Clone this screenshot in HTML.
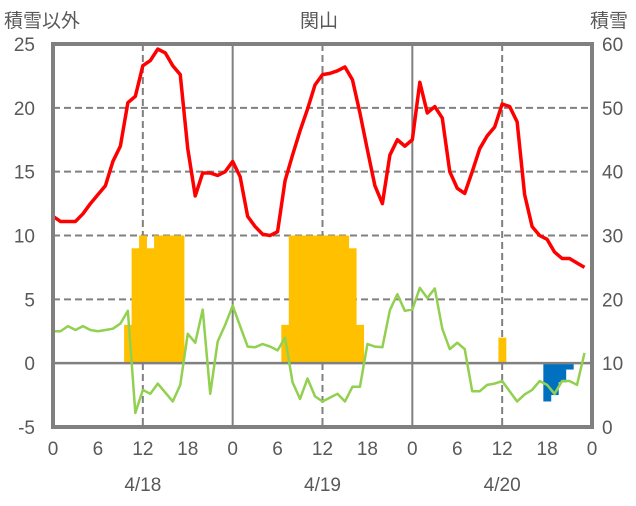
<!DOCTYPE html>
<html><head><meta charset="utf-8"><style>
body{margin:0;background:#fff;width:636px;height:501px;overflow:hidden}
svg text{font-family:"Liberation Sans","Noto Sans CJK JP",sans-serif;fill:#595959}
</style></head><body>
<svg id="chart" width="636" height="501"></svg>
<script>
const hours=[0,6,12,18,0,6,12,18,0,6,12,18,0];
const leftTicks=[25,20,15,10,5,0,-5];
const rightTicks=[60,50,40,30,20,10,0];
const dates=["4/18","4/19","4/20"];
const temp=[11.5,11.1,11.1,11.1,11.7,12.5,13.2,13.9,15.8,17.0,20.4,20.9,23.3,23.7,24.6,24.3,23.3,22.6,16.8,13.1,14.9,14.9,14.7,15.0,15.8,14.6,11.5,10.7,10.1,10.0,10.3,14.3,16.3,18.2,19.9,21.8,22.6,22.7,22.9,23.2,22.2,19.6,16.7,13.9,12.5,16.3,17.5,17.0,17.5,22.0,19.6,20.1,19.2,15.0,13.7,13.3,15.0,16.8,17.8,18.5,20.3,20.1,18.9,13.2,10.7,10.0,9.7,8.7,8.2,8.2,7.85,7.5];
const green=[2.5,2.5,2.9,2.6,2.9,2.6,2.5,2.6,2.7,3.1,4.1,-3.9,-2.1,-2.4,-1.6,-2.3,-3.0,-1.7,2.3,1.6,4.2,-2.4,1.7,3.0,4.5,2.9,1.3,1.25,1.5,1.3,1.0,2.0,-1.5,-2.8,-1.2,-2.6,-3.0,-2.7,-2.4,-3.0,-1.85,-1.85,1.5,1.3,1.25,4.15,5.4,4.1,4.2,5.9,5.1,5.85,2.7,1.1,1.6,1.1,-2.2,-2.2,-1.7,-1.6,-1.4,-2.2,-3.0,-2.45,-2.1,-1.4,-1.7,-2.4,-1.4,-1.4,-1.7,0.8];
const snowHours=[10,11,12,13,14,15,16,17,31,32,33,34,35,36,37,38,39,40,41,60];
const snowVals=[3,9,10,9,10,10,10,10,3,10,10,10,10,10,10,10,10,9,3,2];
const meltHours=[66,67,68,69];
const meltVals=[-3,-2.5,-1.5,-0.5];
const depthHours=[0,11];
const depthVals=[0,0];

const X0=53,X1=592,Y0=44,Y1=427;
const x=h=>X0+(X1-X0)*h/72;
const yL=v=>Y1-(Y1-Y0)*(v+5)/30;
const yR=v=>Y1-(Y1-Y0)*v/60;
const svg=document.getElementById('chart');
const NS="http://www.w3.org/2000/svg";
function mk(tag,attrs,parent){const e=document.createElementNS(NS,tag);for(const k in attrs)e.setAttribute(k,attrs[k]);(parent||svg).appendChild(e);return e;}
// grid
[20,15,10,5].forEach(v=>{const l=mk('line',{x1:X0,x2:X1,y1:yL(v),y2:yL(v),stroke:'#808080','stroke-width':2,'stroke-dasharray':'7,4'});

});
[12,36,60].forEach(h=>{const l=mk('line',{x1:x(h),x2:x(h),y1:Y0,y2:Y1,stroke:'#808080','stroke-width':2,'stroke-dasharray':'7,4'});

});
[24,48].forEach(h=>{const l=mk('line',{x1:x(h),x2:x(h),y1:Y0,y2:Y1,stroke:'#808080','stroke-width':2});

});
const bw=(X1-X0)/72;
snowHours.forEach((h,i)=>{const v=snowVals[i];const r=mk('rect',{x:x(h)-bw/2,width:bw+0.4,y:yL(v),height:yL(0)-yL(v),fill:'#FFC000'});

});
meltHours.forEach((h,i)=>{const v=meltVals[i];const r=mk('rect',{x:x(h)-bw/2,width:bw+0.4,y:yL(0),height:yL(v)-yL(0),fill:'#0070C0'});

});
const zl=mk('line',{x1:X0,x2:X1,y1:yL(0),y2:yL(0),stroke:'#808080','stroke-width':2.5});


function poly(vals,col,w,name,fy,hs){const p=mk('polyline',{points:vals.map((v,i)=>x(hs?hs[i]:i)+','+fy(v)).join(' '),fill:'none',stroke:col,'stroke-width':w,'stroke-linejoin':'round'});

}
poly(green,'#92D050',2.5,'green-series',yL);
poly(temp,'#FF0000',3.5,'temperature-line',yL);
poly(depthVals,'#7030A0',3,'snow-depth-line',yR,depthHours);
const fr=mk('rect',{x:X0,y:Y0,width:X1-X0,height:Y1-Y0,fill:'none',stroke:'#808080','stroke-width':4});


leftTicks.forEach(v=>{const t=mk('text',{x:35,y:yL(v)+7,'text-anchor':'end','font-size':19});t.textContent=v;

});
rightTicks.forEach(v=>{const t=mk('text',{x:602,y:yR(v)+7,'font-size':19});t.textContent=v;

});
hours.forEach((h,i)=>{const t=mk('text',{x:x(i*6),y:455,'text-anchor':'middle','font-size':19});t.textContent=h;

});
dates.forEach((d,i)=>{const t=mk('text',{x:x(12+24*i),y:491,'text-anchor':'middle','font-size':19});t.textContent=d;

});
</script>
<svg width="0" height="0"></svg>
<div style="position:absolute;left:0;top:0;width:636px;height:40px;font-family:'Liberation Sans','Noto Sans CJK JP',sans-serif;font-size:19px;color:#595959">
<span style="position:absolute;left:4px;top:6px">積雪以外</span>
<span style="position:absolute;left:300px;top:6px">関山</span>
<span style="position:absolute;left:590px;top:6px">積雪</span>
</div>
</body></html>
